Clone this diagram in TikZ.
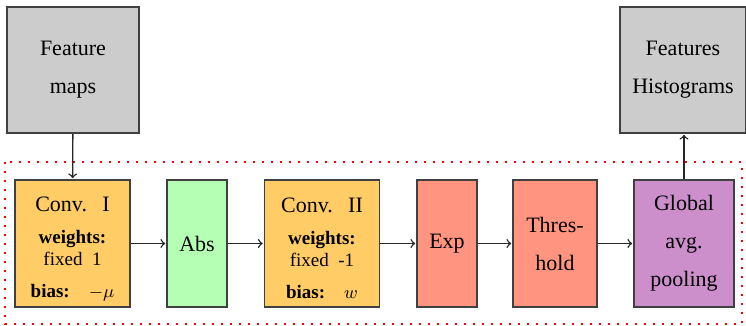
\documentclass[tikz,border=0pt]{standalone}
\usepackage{fontspec}
\setmainfont{Liberation Serif}
\newfontfamily\timesface{Liberation Serif}
\usepackage{tikz}
\usetikzlibrary{calc, arrows}

\definecolor{graybox}{HTML}{CCCCCC}
\definecolor{convcol}{HTML}{FFCC66}
\definecolor{abscol}{HTML}{B5FFB5}
\definecolor{expcol}{HTML}{FF9580}
\definecolor{poolcol}{HTML}{CC8FCC}

\begin{document}
\begin{tikzpicture}[>=to, x=0.5pt, y=-0.5pt,
    blk/.style={draw=black!75, line width=0.8pt, align=center, inner sep=0pt,
      minimum height=63.5pt, font=\timesface\fontsize{11}{19}\selectfont},
    conv/.style={blk, fill=convcol, minimum width=57.5pt, font=\timesface\fontsize{11}{11}\selectfont},
    flow/.style={->, line width=0.7pt, black!85, shorten >=0.5pt}]
        \useasboundingbox (0,0) rectangle (746,326);

        % the input and output maps
        \node[blk, fill=graybox, minimum width=66pt, minimum height=63pt] (fmaps) at (73,70) {Feature\\maps};
        \node[blk, fill=graybox, minimum width=63pt, minimum height=63pt] (hist) at (683,70) {Features\\Histograms};

        % the dotted frame round the layers
        \draw[red, line width=1.2pt, dash pattern=on 1.2pt off 3.3pt] (5,162) rectangle (742,324);

        % the layers
        \node[conv] (conv1) at (72.5,243.5) {\rule{0pt}{12.5pt}Conv.\hspace{0.7em}I\\[5pt]
          \fontsize{9.5}{11}\selectfont\textbf{weights:}\\
          \fontsize{9.5}{11}\selectfont fixed\enspace 1\\[5pt]
          \fontsize{9.5}{11}\selectfont\textbf{bias:}\quad $-\mu$};
        \node[blk, fill=abscol, minimum width=30pt] (abs) at (197,243.5) {Abs};
        \node[conv] (conv2) at (322,243.5) {\rule{0pt}{12.5pt}Conv.\hspace{0.7em}II\\[5pt]
          \fontsize{9.5}{11}\selectfont\textbf{weights:}\\
          \fontsize{9.5}{11}\selectfont fixed\enspace -1\\[5pt]
          \fontsize{9.5}{11}\selectfont\textbf{bias:}\quad $w$};
        \node[blk, fill=expcol, minimum width=30pt] (expo) at (447,243.5) {Exp};
        \node[blk, fill=expcol, minimum width=42pt] (thresh) at (555,243.5) {Thres-\\hold};
        \node[blk, fill=poolcol, minimum width=50pt] (pool) at (684,243.5) {Global\\avg.\\pooling};

        % the arrows
        \draw[flow] (fmaps) -- (conv1);
        \draw[flow] (conv1) -- (abs);
        \draw[flow] (abs) -- (conv2);
        \draw[flow] (conv2) -- (expo);
        \draw[flow] (expo) -- (thresh);
        \draw[flow] (thresh) -- (pool);
        \draw[flow] (pool.north) -- (pool.north |- hist.south);
\end{tikzpicture}
\end{document}
